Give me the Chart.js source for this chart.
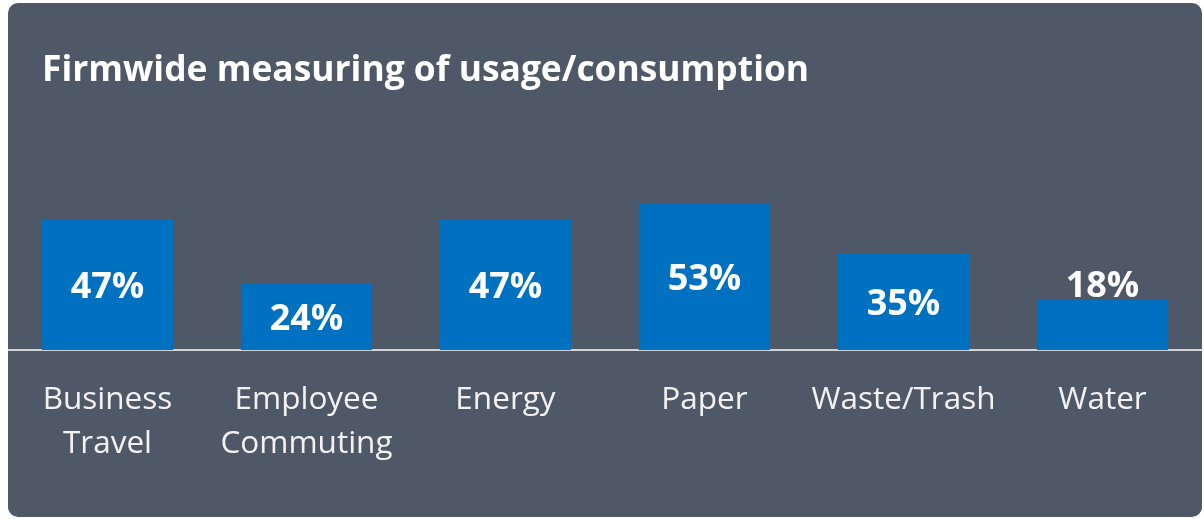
<!DOCTYPE html>
<html>
<head>
<meta charset="utf-8">
<script src="https://cdn.jsdelivr.net/npm/chart.js@4"></script>
<style>
  body { margin: 0; background: #fff; font-family: "Open Sans", sans-serif; }
  #panel {
    position: absolute; left: 8px; top: 3px; width: 1194px; height: 514px;
    background: #4f5866; border-radius: 10px; overflow: hidden;
  }
  #title {
    position: absolute; left: 34px; top: 40px; margin: 0;
    color: #fff; font-size: 35.4px; font-weight: 700; line-height: 48px;
  }
  #wrap { position: absolute; left: 0; top: 0; width: 1194px; height: 514px; }
</style>
</head>
<body>
<div id="panel">
  <div id="wrap"><canvas id="myChart"></canvas></div>
  <h1 id="title">Firmwide measuring of usage/consumption</h1>
</div>
<script>
// values
const categories = [["Business", "Travel"], ["Employee", "Commuting"], "Energy", "Paper", "Waste/Trash", "Water"];
const shares = [47, 24, 47, 53, 35, 18];

const barBlue = '#0070c0';

// percent labels on the bars (short bars get the label on top)
const valueLabels = {
    id: 'valueLabels',
    afterDatasetsDraw(chart) {
        const c = chart.ctx;
        const meta = chart.getDatasetMeta(0);
        c.save();
        c.fillStyle = '#ffffff';
        c.font = 'bold 36px "Open Sans"';
        c.textAlign = 'center';
        meta.data.forEach((bar, i) => {
            const h = bar.base - bar.y;
            if (h < 60) {
                c.textBaseline = 'alphabetic';
                c.fillText(shares[i] + '%', bar.x, bar.y - 3);
            } else {
                c.textBaseline = 'middle';
                c.fillText(shares[i] + '%', bar.x, (bar.y + bar.base) / 2 + 3);
            }
        });
        c.restore();
    }
};

const ctx = document.getElementById('myChart');
const myChart = new Chart(ctx, {
    type: 'bar',
    data: {
        labels: categories,
        datasets: [{
            data: shares,
            backgroundColor: barBlue,
            categoryPercentage: 1,
            barPercentage: 0.66
        }]
    },
    options: {
        responsive: true,
        maintainAspectRatio: false,
        animation: false,
        layout: { padding: { top: 125, left: 0, right: 0, bottom: 0 } },
        scales: {
            x: {
                grid: { display: false, drawTicks: false },
                border: { display: true, color: '#d0d3d8', width: 2 },
                ticks: {
                    color: '#f2f2f2',
                    font: { family: 'Open Sans', size: 31.5, lineHeight: 1.4 },
                    padding: 28,
                    maxRotation: 0,
                    autoSkip: false
                },
                afterFit(scale) { scale.height = 167; }
            },
            y: {
                display: false,
                min: 0,
                max: 80
            }
        },
        plugins: {
            legend: { display: false },
            tooltip: { enabled: false }
        }
    },
    plugins: [valueLabels]
});
</script>
</body>
</html>
